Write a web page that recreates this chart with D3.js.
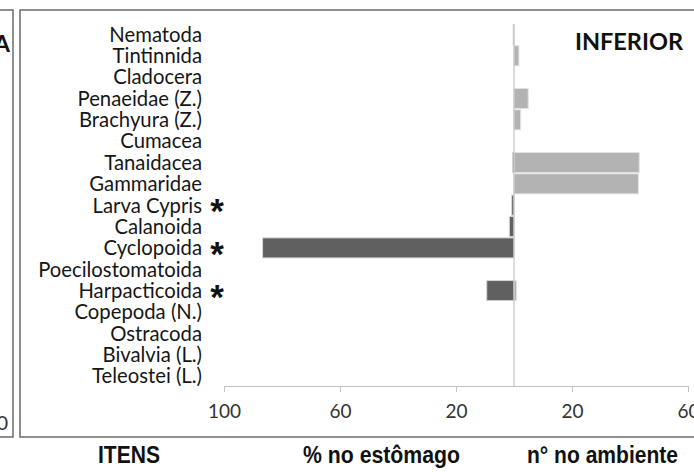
<!DOCTYPE html>
<html>
<head>
<meta charset="utf-8">
<script src="https://cdn.jsdelivr.net/npm/d3@7"></script>
<style>
  body { margin: 0; background: #fff; }
  svg { display: block; }
</style>
</head>
<body>
<svg width="694" height="472"></svg>
<script>
let itens = ["Nematoda", "Tintinnida", "Cladocera", "Penaeidae (Z.)", "Brachyura (Z.)", "Cumacea",
  "Tanaidacea", "Gammaridae", "Larva Cypris", "Calanoida", "Cyclopoida", "Poecilostomatoida",
  "Harpacticoida", "Copepoda (N.)", "Ostracoda", "Bivalvia (L.)", "Teleostei (L.)"];
// % no estomago (left side)
let estomago = [0.3, 0, 0, 0, 0, 0, 0.5, 0, 0.8, 1.6, 86.7, 0, 9.4, 0, 0, 0, 0];
// n° no ambiente (right side)
let ambiente = [0, 1.7, 0, 4.9, 2.3, 0, 43.2, 42.9, 0, 0, 0, 0, 0.9, 0, 0, 0, 0];
let marcados = ["Larva Cypris", "Cyclopoida", "Harpacticoida"];
let tickVals = [-100, -60, -20, 20, 60];

let svg = d3.select("svg"),
    width = +svg.attr("width"),
    height = +svg.attr("height");

let x = d3.scaleLinear().domain([-100, 60]).range([224, 688]);
let y = d3.scaleBand().domain(itens).range([24.4, 386]).paddingInner(0.06);

// frames
svg.append("path")
    .attr("d", "M0,10H13V437H0")
    .attr("fill", "none").attr("stroke", "#6b6b6b").attr("stroke-width", 1.5);
svg.append("rect")
    .attr("x", 20).attr("y", 10).attr("width", 700).attr("height", 427)
    .attr("fill", "none").attr("stroke", "#6b6b6b").attr("stroke-width", 1.5);
svg.append("text").attr("x", 10).attr("y", 52).attr("text-anchor", "end")
    .style("font-family", "Lato").style("font-weight", "bold").style("font-size", "23px")
    .style("fill", "#111")
    .text("A");
svg.append("text").attr("x", 8).attr("y", 430).attr("text-anchor", "end")
    .style("font-family", "Lato").style("font-size", "20px").style("fill", "#333")
    .text("0");

// bars
let rows = itens.map(function(d, i) { return {item: d, est: estomago[i], amb: ambiente[i]}; });

svg.append("g").selectAll("rect")
    .data(rows.filter(function(d) { return d.amb > 0; }))
    .enter().append("rect")
      .attr("x", x(0))
      .attr("y", function(d) { return y(d.item); })
      .attr("width", function(d) { return x(d.amb) - x(0); })
      .attr("height", y.bandwidth())
      .attr("fill", "#b3b3b3")
      .attr("stroke", "#e3e3e3").attr("stroke-width", 1);

svg.append("g").selectAll("rect")
    .data(rows.filter(function(d) { return d.est > 0; }))
    .enter().append("rect")
      .attr("x", function(d) { return x(-d.est); })
      .attr("y", function(d) { return y(d.item); })
      .attr("width", function(d) { return x(0) - x(-d.est); })
      .attr("height", y.bandwidth())
      .attr("fill", "#606060")
      .attr("stroke", "#d6d6d6").attr("stroke-width", 1);

// center line
svg.append("line")
    .attr("x1", x(0)).attr("x2", x(0))
    .attr("y1", y.range()[0]).attr("y2", y.range()[1])
    .attr("stroke", "#c4c4c4").attr("stroke-width", 1.2);

// axis
let axis = svg.append("g")
    .attr("transform", "translate(0," + y.range()[1] + ")")
    .call(d3.axisBottom(x).tickValues(tickVals).tickSize(6).tickSizeOuter(0).tickPadding(13)
      .tickFormat(function(d) { return Math.abs(d); }));
axis.select(".domain").attr("stroke", "#c4c4c4");
axis.selectAll(".tick line").attr("stroke", "#c4c4c4");
axis.selectAll(".tick text")
    .style("font-family", "Lato").style("font-size", "19px").style("fill", "#333");

// labels
svg.append("g").selectAll("text")
    .data(itens)
    .enter().append("text")
      .attr("x", 202)
      .attr("y", function(d) { return y(d) + y.bandwidth() / 2; })
      .attr("dy", "0.36em")
      .attr("text-anchor", "end")
      .style("font-family", "Lato").style("font-size", "20.3px").style("fill", "#161616")
      .text(function(d) { return d; });

svg.append("g").selectAll("text")
    .data(marcados)
    .enter().append("text")
      .attr("x", 217)
      .attr("y", function(d) { return y(d) + y.bandwidth() / 2 + 18; })
      .attr("text-anchor", "middle")
      .style("font-family", "Liberation Sans").style("font-weight", "bold").style("font-size", "35px")
      .style("fill", "#111")
      .text("*");

svg.append("text").attr("x", 683).attr("y", 50).attr("text-anchor", "end")
    .style("font-family", "Lato").style("font-weight", "bold").style("font-size", "23.5px")
    .style("fill", "#111")
    .text("INFERIOR");

// bottom titles
let rodape = [["ITENS", 129, 62], ["% no estômago", 381.5, 157], ["n° no ambiente", 602.5, 151]];
svg.append("g").selectAll("text")
    .data(rodape)
    .enter().append("text")
      .attr("x", function(d) { return d[1]; })
      .attr("y", 463)
      .attr("text-anchor", "middle")
      .attr("textLength", function(d) { return d[2]; })
      .attr("lengthAdjust", "spacingAndGlyphs")
      .style("font-family", "'Liberation Sans Narrow', 'Liberation Sans'")
      .style("font-weight", "bold").style("font-size", "23px").style("fill", "#111")
      .text(function(d) { return d[0]; });
</script>
</body>
</html>
